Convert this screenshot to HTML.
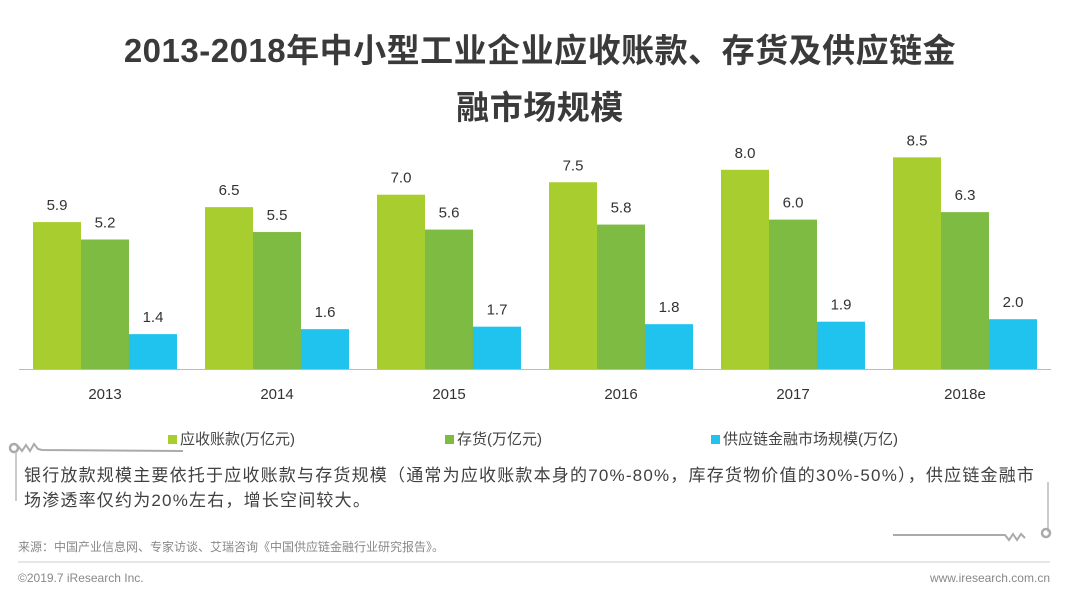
<!DOCTYPE html>
<html><head><meta charset="utf-8"><style>
body{margin:0;width:1080px;height:601px;background:#fff;overflow:hidden;font-family:"Liberation Sans","Noto Sans CJK SC",sans-serif;position:relative}
.t{position:absolute;white-space:nowrap}
</style></head><body>
<div class="t" style="left:0;width:1080px;text-align:center;top:22px;font-size:33px;letter-spacing:0.5px;font-weight:bold;color:#3a3a3a;line-height:57px">2013-2018年中小型工业企业应收账款、存货及供应链金<br>融市场规模</div>
<svg id="chart" width="1080" height="420" style="position:absolute;left:0;top:0"></svg>
<div class="t" style="left:168px;top:428px;font-size:15px;color:#444"><span style="display:inline-block;width:9px;height:9px;background:#a8cd2e;margin-right:3px"></span>应收账款(万亿元)</div>
<div class="t" style="left:445px;top:428px;font-size:15px;color:#444"><span style="display:inline-block;width:9px;height:9px;background:#7dbb42;margin-right:3px"></span>存货(万亿元)</div>
<div class="t" style="left:711px;top:428px;font-size:15px;color:#444"><span style="display:inline-block;width:9px;height:9px;background:#1fc3ee;margin-right:3px"></span>供应链金融市场规模(万亿)</div>
<svg width="1080" height="601" style="position:absolute;left:0;top:0">
<circle cx="14" cy="448" r="4" fill="none" stroke="#aaa" stroke-width="2.5"/>
<path d="M18 446 l4 5 l4 -6 l4 6 l4 -7 l4 5 l4 1 L183 451" fill="none" stroke="#aaa" stroke-width="2"/>
<line x1="16" y1="452" x2="16" y2="501" stroke="#bbb" stroke-width="1.5"/>
<line x1="1048" y1="482" x2="1048" y2="532" stroke="#bbb" stroke-width="1.5"/>
<path d="M893 535 L1005 535 l4 5 l4 -6 l4 6 l4 -6 l4 4" fill="none" stroke="#aaa" stroke-width="2"/>
<circle cx="1046" cy="533" r="4" fill="none" stroke="#aaa" stroke-width="2.5"/>
<line x1="18" y1="562" x2="1050" y2="562" stroke="#ccc" stroke-width="1"/>
</svg>
<div class="t" style="left:24px;top:463px;font-size:17px;letter-spacing:1.2px;color:#404040;line-height:25px">银行放款规模主要依托于应收账款与存货规模（通常为应收账款本身的70%-80%，库存货物价值的30%-50%），供应链金融市<br>场渗透率仅约为20%左右，增长空间较大。</div>
<div class="t" style="left:18px;top:538px;font-size:12px;color:#888">来源：中国产业信息网、专家访谈、艾瑞咨询《中国供应链金融行业研究报告》。</div>
<div class="t" style="left:18px;top:571px;font-size:12px;color:#888">©2019.7 iResearch Inc.</div>
<div class="t" style="right:30px;top:571px;font-size:12px;color:#888">www.iresearch.com.cn</div>
<script>
const categories=["2013","2014","2015","2016","2017","2018e"];
const receivables=[5.9,6.5,7.0,7.5,8.0,8.5];
const inventory=[5.2,5.5,5.6,5.8,6.0,6.3];
const scf=[1.4,1.6,1.7,1.8,1.9,2.0];
const seriesList=[receivables,inventory,scf];
const colors=["#a8cd2e","#7dbb42","#1fc3ee"];
const names=["receivables","inventory","scf"];
const svg=document.getElementById('chart');
const NS="http://www.w3.org/2000/svg";
const x0=19,slot=172,bw=48,base=369,ppu=24.9;
const y=v=>base-v*ppu;
const xb=(i,s)=>x0+i*slot+14+s*bw;
function mk(t,a){const e=document.createElementNS(NS,t);for(const k in a)e.setAttribute(k,a[k]);svg.appendChild(e);return e;}
const ax=mk('line',{x1:x0,x2:x0+slot*categories.length,y1:base+0.5,y2:base+0.5,stroke:'#bbb'});


categories.forEach((c,i)=>{
  seriesList.forEach((arr,s)=>{
    const r=mk('rect',{x:xb(i,s),y:y(arr[i]),width:bw,height:base-y(arr[i]),fill:colors[s]});
    
    
    const t=mk('text',{x:xb(i,s)+bw/2,y:y(arr[i])-12,'text-anchor':'middle','font-size':15,fill:'#333'});
    t.textContent=arr[i].toFixed(1);
    
    
  });
  const l=mk('text',{x:x0+i*slot+14+1.5*bw,y:399,'text-anchor':'middle','font-size':15,fill:'#333'});
  l.textContent=c;
  
  
});
</script>
</body></html>
